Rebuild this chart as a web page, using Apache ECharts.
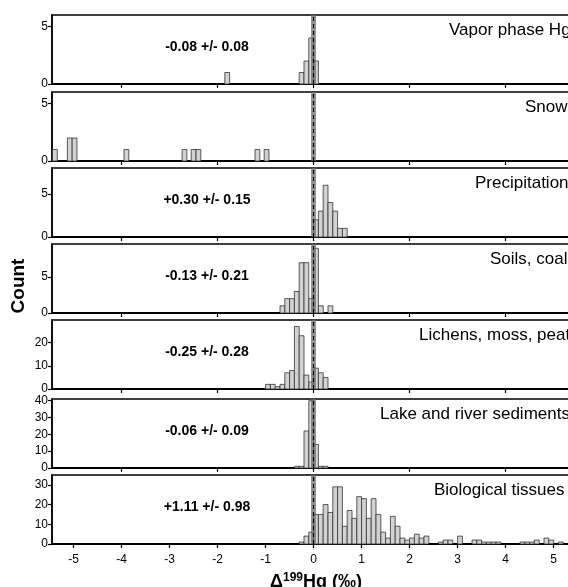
<!DOCTYPE html>
<html>
<head>
<meta charset="utf-8">
<script src="https://cdn.jsdelivr.net/npm/echarts@6/dist/echarts.min.js"></script>
<style>
  html, body { margin: 0; padding: 0; overflow: hidden; background: #fff; }
  #viz { width: 600px; height: 587px; }
</style>
</head>
<body>
<div id="viz"></div>
<script>
/* histogram bins: left edge of each 0.1 bin and its count */
var binWidth = 0.1;

var vaporLeft  = [-1.85, -0.3, -0.2, -0.1, 0.0];
var vaporCount = [1, 1, 2, 4, 2];

var snowLeft  = [-5.44, -5.13, -5.03, -3.95, -2.74, -2.55, -2.45, -1.22, -1.03];
var snowCount = [1, 2, 2, 1, 1, 1, 1, 1, 1];

var precipLeft  = [0.0, 0.1, 0.2, 0.3, 0.4, 0.5, 0.6];
var precipCount = [2, 3, 6, 4, 3, 1, 1];

var soilLeft  = [-0.7, -0.6, -0.5, -0.4, -0.3, -0.2, -0.1, 0.0, 0.1, 0.3];
var soilCount = [1, 2, 2, 3, 7, 7, 2, 9, 1, 1];

var lichenLeft  = [-1.0, -0.9, -0.8, -0.7, -0.6, -0.5, -0.4, -0.3, -0.2, -0.1, 0.0, 0.1, 0.2];
var lichenCount = [2, 2, 1, 2, 7, 8, 27, 23, 6, 3, 9, 7, 5];

var sedimentLeft  = [-0.4, -0.3, -0.2, -0.1, 0.0, 0.1, 0.2];
var sedimentCount = [1, 1, 22, 40, 14, 1, 1];

var bioLeft  = [-0.3, -0.2, -0.1, 0.0, 0.1, 0.2, 0.3, 0.4, 0.5, 0.6, 0.7, 0.8, 0.9, 1.0, 1.1,
                1.2, 1.3, 1.4, 1.5, 1.6, 1.7, 1.8, 1.9, 2.0, 2.1, 2.2, 2.3, 2.6, 2.7, 2.8,
                3.0, 3.3, 3.4, 3.5, 3.6, 3.7, 3.8, 4.3, 4.4, 4.5, 4.6, 4.8, 4.9, 5.1];
var bioCount = [1, 4, 6, 15, 15, 20, 16, 29, 29, 9, 17, 13, 24, 23, 13,
                23, 15, 6, 3, 14, 9, 3, 2, 3, 5, 3, 4, 1, 2, 2,
                4, 2, 2, 1, 1, 1, 1, 1, 1, 1, 2, 3, 2, 1];

var panelNames = ['Vapor phase Hg', 'Snow', 'Precipitation', 'Soils, coal',
                  'Lichens, moss, peat', 'Lake and river sediments', 'Biological tissues'];
var panelStats = ['-0.08 +/- 0.08', '', '+0.30 +/- 0.15', '-0.13 +/- 0.21',
                  '-0.25 +/- 0.28', '-0.06 +/- 0.09', '+1.11 +/- 0.98'];

var yMax   = [6, 6, 8, 9.6, 29.8, 41, 35];
var yTicks = [[0, 5], [0, 5], [0, 5], [0, 5], [0, 10, 20], [0, 10, 20, 30, 40], [0, 10, 20, 30]];
var xTicksTop    = [-4, -2, 0, 2, 4];
var xTicksBottom = [-5, -4, -3, -2, -1, 0, 1, 2, 3, 4, 5];
var xMin = -5.45, xMax = 5.55;

var lefts  = [vaporLeft, snowLeft, precipLeft, soilLeft, lichenLeft, sedimentLeft, bioLeft];
var counts = [vaporCount, snowCount, precipCount, soilCount, lichenCount, sedimentCount, bioCount];

/* layout */
var panelTop = [15, 92, 168, 244, 320, 399, 475];
var panelHeight = 69;
var nameX = [449, 525, 475, 490, 419, 380, 434];
var font = '"Liberation Sans", Arial, sans-serif';

function renderBar(params, api) {
    var x0 = api.value(0);
    var h = api.value(1);
    var p0 = api.coord([x0, h]);
    var p1 = api.coord([x0 + binWidth, 0]);
    return {
        type: 'rect',
        shape: { x: p0[0], y: p0[1], width: p1[0] - p0[0], height: p1[1] - p0[1] },
        style: { fill: '#d2d2d2', stroke: '#333', lineWidth: 0.8 }
    };
}

var grids = [], xAxes = [], yAxes = [], series = [], graphics = [];

for (var i = 0; i < 7; i++) {
    var last = (i === 6);
    grids.push({
        left: 52, right: 20, top: panelTop[i], height: panelHeight,
        outerBoundsMode: 'none', containLabel: false,
        show: true, borderColor: '#000', borderWidth: 1.5, backgroundColor: 'transparent'
    });
    xAxes.push({
        type: 'value', gridIndex: i, min: xMin, max: xMax,
        axisLine: { onZero: false, lineStyle: { color: '#000', width: 1.8 } },
        axisTick: { customValues: last ? xTicksBottom : xTicksTop, length: 4, lineStyle: { color: '#000', width: 1.2 } },
        axisLabel: { show: last, customValues: xTicksBottom, color: '#000', fontSize: 12, fontFamily: font, margin: 10 },
        splitLine: { show: false },
        name: last ? '{a|\u0394}{s|199}{a|Hg (\u2030)}' : '',
        nameLocation: 'middle',
        nameGap: 27,
        nameTextStyle: {
            rich: {
                a: { fontSize: 18, fontWeight: 'bold', fontFamily: font, color: '#000', lineHeight: 22 },
                s: { fontSize: 12, fontWeight: 'bold', fontFamily: font, color: '#000', lineHeight: 22, padding: [0, 0, 9, 0] }
            }
        }
    });
    yAxes.push({
        type: 'value', gridIndex: i, min: 0, max: yMax[i],
        axisLine: { show: true, onZero: false, lineStyle: { color: '#000', width: 1.5 } },
        axisTick: { show: true, customValues: yTicks[i], length: 4, lineStyle: { color: '#000', width: 1.2 } },
        axisLabel: { customValues: yTicks[i], color: '#000', fontSize: 12, fontFamily: font, margin: 4 },
        splitLine: { show: false }
    });

    var data = lefts[i].map(function (x, k) { return [x, counts[i][k]]; });
    series.push({
        type: 'custom', xAxisIndex: i, yAxisIndex: i,
        renderItem: renderBar,
        encode: { x: 0, y: 1 },
        data: data,
        silent: true,
        markLine: {
            silent: true, symbol: 'none', label: { show: false },
            data: [
                { xAxis: 0, lineStyle: { color: 'rgba(110,110,110,0.75)', width: 5, type: 'solid' } },
                { xAxis: 0, lineStyle: { color: '#000', width: 1.2, type: [4, 3] } }
            ]
        }
    });

    graphics.push({
        type: 'text', x: nameX[i], y: panelTop[i] + 15,
        style: { text: panelNames[i], fontSize: 17, fontFamily: font, fill: '#000', align: 'left', verticalAlign: 'middle' }
    });
    if (panelStats[i]) {
        graphics.push({
            type: 'text', x: 207, y: panelTop[i] + 32,
            style: { text: panelStats[i], fontSize: 14, fontWeight: 'bold', fontFamily: font, fill: '#000', align: 'center', verticalAlign: 'middle' }
        });
    }
}

graphics.push({
    type: 'text', x: 19, y: 286, rotation: Math.PI / 2,
    style: { text: 'Count', fontSize: 19, fontWeight: 'bold', fontFamily: font, fill: '#000', align: 'center', verticalAlign: 'middle' }
});

var chart = echarts.init(document.getElementById('viz'));
chart.setOption({
    animation: false,
    backgroundColor: '#fff',
    grid: grids,
    xAxis: xAxes,
    yAxis: yAxes,
    series: series,
    graphic: graphics
});
</script>
</body>
</html>
